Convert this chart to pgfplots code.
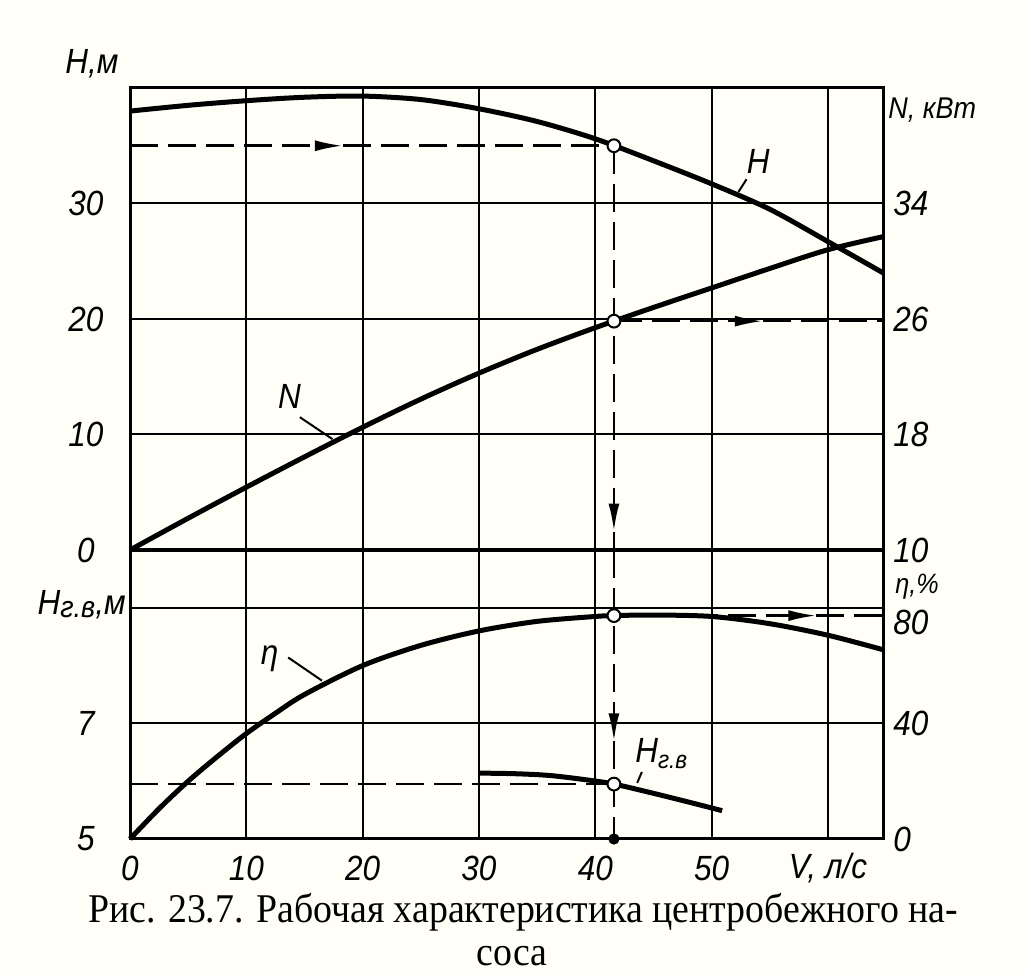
\documentclass[border=0pt]{standalone}
\usepackage{fontspec}
\usepackage{graphicx}
\usepackage{pgfplots}
\pgfplotsset{compat=1.18}
\usetikzlibrary{arrows.meta}
\setmainfont{Liberation Serif}
\newfontfamily\gost[FakeStretch=0.9]{Liberation Sans}
\newcommand\lab{\gost\itshape\fontsize{17.5bp}{20bp}\selectfont}
\newcommand\labs{\gost\itshape\fontsize{15bp}{18bp}\selectfont}
\newcommand\labt{\gost\itshape\fontsize{14bp}{16bp}\selectfont}
\newcommand\sublab{\gost\itshape\fontsize{12.5bp}{15bp}\selectfont}
\newcommand\capfont{\fontsize{20.4bp}{24bp}\selectfont}
\newsavebox\capbox
\newlength\caplen

\pgfplotsset{
  base/.style={
    scale only axis, width=376.5bp,
    xmin=0, xmax=64.73,
    axis line style={line width=1.5bp, black},
    major tick length=0pt,
    grid style={line width=1bp, black},
    /pgf/number format/assume math mode=true,
    tick label style={font=\lab, inner sep=0pt},
    clip=false,
  },
  curve/.style={line width=2.5bp, black, smooth, no markers},
  dash/.style={line width=1.3bp, black, dash pattern=on 14bp off 5bp, no markers},
  arr/.style={-{Latex[length=14bp,width=5.5bp]}},
  openpt/.style={only marks, mark=*, mark size=3.2bp, mark options={fill=white, draw=black, line width=1bp}},
  fullpt/.style={only marks, mark=*, mark size=2.6bp, mark options={fill=black, draw=black}},
}

\begin{document}
\sbox\capbox{\capfont Рис. 23.7. Рабочая характеристика центробежного на-}%
\setlength\caplen{\wd\capbox}%
\pgfmathsetmacro\capfac{436.6/\caplen}%
\begin{tikzpicture}
\fill[white!97!yellow] (0,0) rectangle (513.5bp,487.5bp);
\useasboundingbox (0,0) rectangle (513.5bp,487.5bp);

% ---------- top panel, left axis: H, m ----------
\begin{axis}[base, at={(65bp,212.5bp)}, anchor=south west, height=231bp,
  ymin=0, ymax=40,
  xtick={10,20,30,40,50,60}, xticklabels={},
  ytick={0,10,20,30}, yticklabels={0,10,20,30},
  yticklabel style={anchor=center, xshift=-22bp},
  xmajorgrids, ymajorgrids]
% vertical dashed line from the working point
\addplot[dash, arr] coordinates {(41.6,35) (41.6,1.6)};
\addplot[dash] coordinates {(41.6,1.6) (41.6,0)};
% horizontal dashed line at H = 35
\addplot[dash, arr] coordinates {(0,35) (18.3,35)};
\addplot[dash] coordinates {(18.3,35) (41.6,35)};
% H curve
\addplot[curve] coordinates {
 (0,38.0) (5,38.5) (10,38.9) (15,39.2) (20,39.3) (25,39.0) (30,38.2)
 (35,37.1) (40,35.6) (45,33.7) (50,31.7) (55,29.5) (60,26.7) (64.73,24.0)};
\addplot[openpt] coordinates {(41.6,35.0)};
% curve labels
\node[font=\lab] at (axis cs:54.0,33.6) {H};
\draw[line width=1bp] (axis cs:53.0,32.1) -- (axis cs:52.3,31.0);
\node[font=\lab] at (axis cs:13.7,13.3) {N};
\draw[line width=1bp] (axis cs:14.6,11.5) -- (axis cs:17.4,9.6);
\end{axis}

% ---------- top panel, right axis: N, kW ----------
\begin{axis}[base, at={(65bp,212.5bp)}, anchor=south west, height=231bp,
  ymin=10, ymax=42, axis y line*=right, axis x line=none,
  ytick={10,18,26,34}, yticklabels={10,18,26,34},
  yticklabel style={anchor=west, xshift=5bp}]
\addplot[dash, arr] coordinates {(41.6,25.85) (54.4,25.85)};
\addplot[dash] coordinates {(54.4,25.85) (64.73,25.85)};
\addplot[curve] coordinates {
 (0,10) (5,12.2) (10,14.35) (15,16.45) (20,18.5) (25,20.45) (30,22.25) (35,23.9)
 (40,25.4) (45,26.8) (50,28.15) (55,29.5) (60,30.8) (64.73,31.7)};
\addplot[openpt] coordinates {(41.6,25.85)};
\end{axis}

% ---------- bottom panel, left axis: H_gv, m ----------
\begin{axis}[base, at={(65bp,68bp)}, anchor=south west, height=144.5bp,
  ymin=5, ymax=10,
  xtick={0,10,20,30,40,50,60}, xticklabels={0,10,20,30,40,50,{V, л/с}},
  xticklabel style={anchor=center, yshift=-14.5bp},
  ytick={5,7,9}, yticklabels={5,7,{}},
  yticklabel style={anchor=center, xshift=-22bp},
  xmajorgrids, ymajorgrids]
\addplot[dash, arr] coordinates {(41.6,10) (41.6,6.69)};
\addplot[dash] coordinates {(41.6,6.69) (41.6,5)};
\addplot[dash] coordinates {(0,5.95) (41.6,5.95)};
\addplot[curve] coordinates {
 (30,6.14) (33,6.13) (36,6.10) (39,6.03) (41.6,5.95) (45,5.79) (48,5.64) (50.9,5.49)};
\addplot[openpt] coordinates {(41.6,5.95)};
\addplot[fullpt] coordinates {(41.6,5)};
\node[font=\lab] at (axis cs:12.0,8.12) {η};
\draw[line width=1bp] (axis cs:13.6,8.14) -- (axis cs:16.5,7.74);
\node[anchor=west, inner sep=0pt] at (axis cs:43.4,6.48) {\lab H\raisebox{-3bp}{\sublab г.в}};
\draw[line width=1bp] (axis cs:44.0,6.16) -- (axis cs:43.6,5.97);
\end{axis}

% ---------- bottom panel, right axis: eta, % ----------
\begin{axis}[base, at={(65bp,68bp)}, anchor=south west, height=144.5bp,
  ymin=0, ymax=100, axis y line*=right, axis x line=none,
  ytick={0,40,80}, yticklabels={0,40,{}},
  yticklabel style={anchor=west, xshift=5bp}]
\addplot[dash, arr] coordinates {(41.6,77.3) (59.0,77.3)};
\addplot[dash] coordinates {(59.0,77.3) (64.73,77.3)};
\addplot[curve] coordinates {
 (0,0) (2.5,10.5) (5,20) (7.5,28.5) (10,36.5) (12.5,43.5) (15,50) (20,60) (25,67)
 (30,72) (35,75.3) (40,77) (41.6,77.3) (45,77.5) (50,77) (55,74.5) (60,70.5) (64.73,65.5)};
\addplot[openpt] coordinates {(41.6,77.3)};
\node[font=\lab, anchor=west, inner sep=0pt, xshift=5bp] at (axis cs:64.73,75.0) {80};
\end{axis}

% ---------- axis titles ----------
\node[font=\lab] at (46bp,455.5bp) {H,м};
\node[font=\labs, anchor=west, inner sep=0pt] at (444bp,432.5bp) {N, кВт};
\node[font=\labt, anchor=west, inner sep=0pt] at (447.5bp,194bp) {η,\%};
\node[anchor=east, inner sep=0pt] at (63bp,185bp) {\lab H\raisebox{-1.5bp}{\labs г.в},м};

% ---------- caption ----------
\node[anchor=base, inner sep=0pt] at (261.5bp,26.5bp)
  {\scalebox{\capfac}[1]{\capfont Рис. 23.7. Рабочая характеристика центробежного на-}};
\node[anchor=base, inner sep=0pt] at (256bp,5bp)
  {\scalebox{\capfac}[1]{\capfont соса}};
\end{tikzpicture}
\end{document}
